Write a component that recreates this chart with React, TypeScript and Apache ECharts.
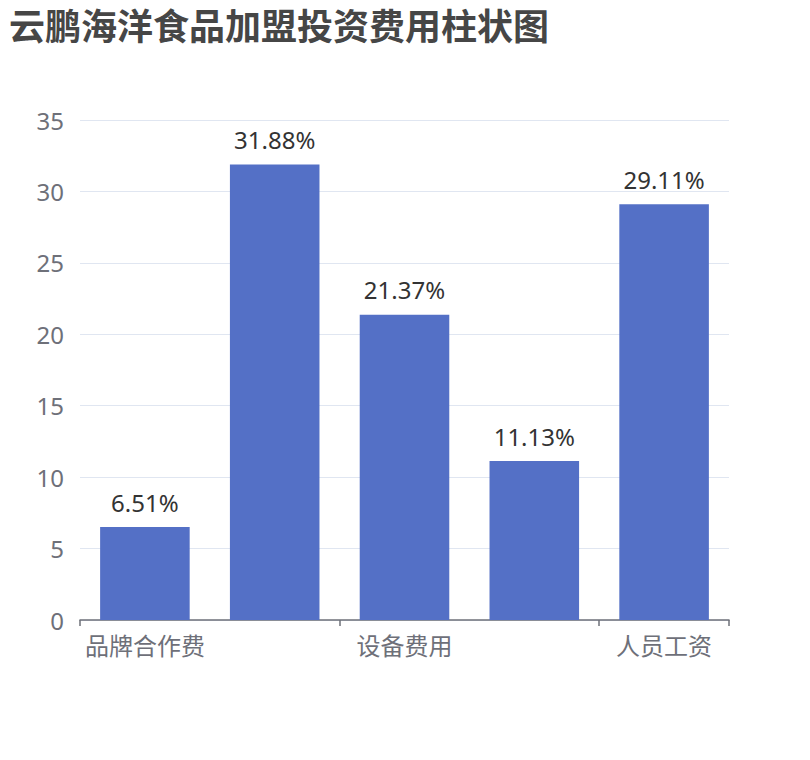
import { useEffect, useRef } from 'react';
import * as echarts from 'echarts';

const categories = ['品牌合作费', '店面租金', '设备费用', '装修费用', '人员工资'];
const values = [6.51, 31.88, 21.37, 11.13, 29.11];
const yTicks = { min: 0, max: 35, interval: 5 };

const FONT = '"Noto Sans", "Noto Sans CJK SC", sans-serif';

export default function App() {
  const chartRef = useRef<HTMLDivElement>(null);

  useEffect(() => {
    if (!chartRef.current) return;
    const chart = echarts.init(chartRef.current, null, { renderer: 'svg' });

    const option: echarts.EChartsOption = {
      animation: false,
      backgroundColor: '#fff',
      textStyle: { fontFamily: FONT },
      title: {
        text: '云鹏海洋食品加盟投资费用柱状图',
        left: 4,
        top: 3,
        textStyle: {
          fontFamily: FONT,
          fontSize: 36,
          fontWeight: 'bold',
          color: '#464646',
        },
      },
      grid: {
        left: 80,
        right: 81,
        top: 120,
        bottom: 140,
        containLabel: false,
      },
      xAxis: {
        type: 'category',
        data: categories,
        axisLine: { lineStyle: { color: '#6e7079', width: 1.5 } },
        axisTick: { show: true, length: 6, lineStyle: { color: '#6e7079', width: 1.5 } },
        axisLabel: {
          interval: 1,
          color: '#6e7079',
          fontSize: 24,
          fontFamily: FONT,
          margin: 13,
        },
      },
      yAxis: {
        type: 'value',
        min: yTicks.min,
        max: yTicks.max,
        interval: yTicks.interval,
        axisLabel: {
          color: '#6e7079',
          fontSize: 24,
          fontFamily: FONT,
          margin: 16,
        },
        splitLine: { lineStyle: { color: '#e0e6f1' } },
      },
      series: [
        {
          type: 'bar',
          data: values,
          barCategoryGap: '31%',
          itemStyle: { color: '#5470c6' },
          label: {
            show: true,
            position: 'top',
            distance: 13,
            formatter: '{c}%',
            color: '#333',
            fontSize: 24,
            fontFamily: FONT,
          },
        },
      ],
    };

    chart.setOption(option);
    return () => {
      chart.dispose();
    };
  }, []);

  return (
    <div
      ref={chartRef}
      style={{ position: 'fixed', left: 0, top: 0, width: 810, height: 760 }}
    />
  );
}
